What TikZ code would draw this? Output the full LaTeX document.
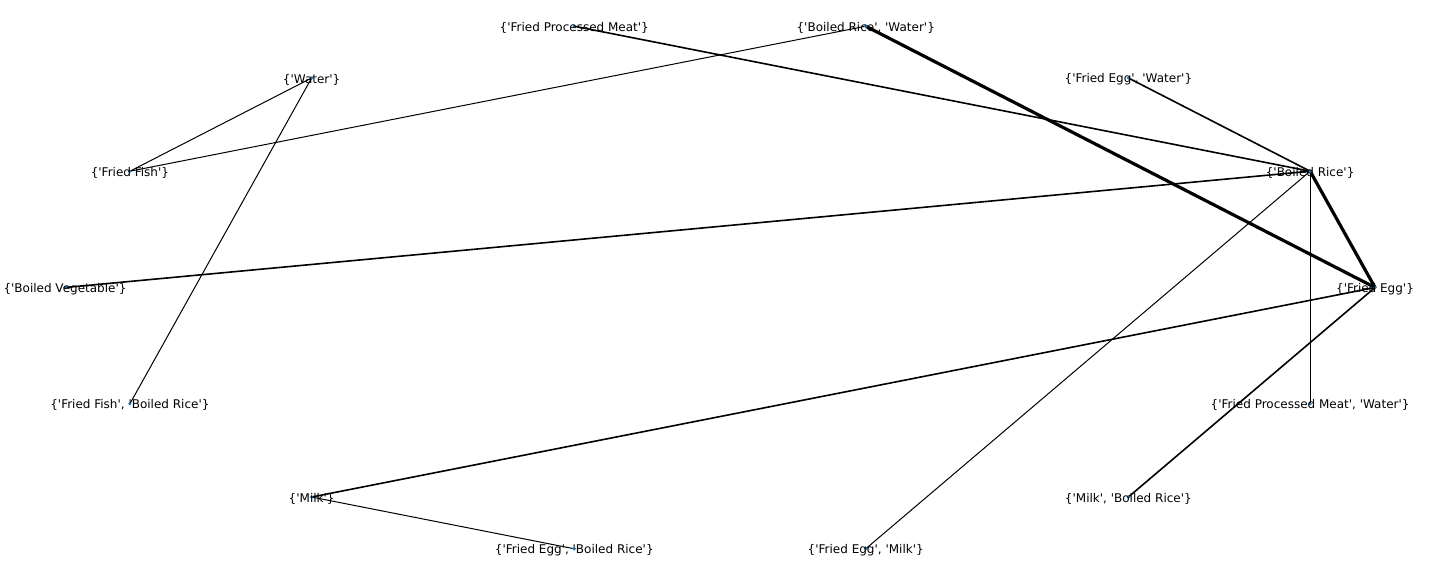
\documentclass[tikz,border=0pt]{standalone}
\usepackage{fontspec}
\setmainfont{DejaVu Sans}[Ligatures=TeXOff]
\begin{document}
\begin{tikzpicture}[x=1pt,y=-1pt,
  lab/.style={font=\fontsize{12}{14}\selectfont, inner sep=0pt, text=black, yshift=-1.5pt},
  dot/.style={fill={rgb,255:red,31;green,119;blue,180}},
  thinE/.style={line width=1pt, black},
  medE/.style={line width=1.6pt, black},
  thickE/.style={line width=3.2pt, black}]
\useasboundingbox (0,0) rectangle (1440,576);
\def\cx{720}\def\cy{287.5}\def\rx{655}\def\ry{268}
\foreach \k in {0,...,13}{
  \coordinate (n\k) at ({\cx+\rx*cos(\k*360/14)},{\cy-\ry*sin(\k*360/14)});
}
% edges
\draw[medE] (n4) -- (n1);
\draw[thickE] (n3) -- (n0);
\draw[thinE] (n3) -- (n6);
\draw[thinE] (n5) -- (n6);
\draw[thinE] (n5) -- (n8);
\draw[medE] (n2) -- (n1);
\draw[medE] (n1) -- (n7);
\draw[thickE] (n1) -- (n0);
\draw[thinE] (n1) -- (n11);
\draw[thinE] (n1) -- (n13);
\draw[medE] (n0) -- (n9);
\draw[medE] (n0) -- (n12);
\draw[thinE] (n9) -- (n10);
% dots
\foreach \k in {0,...,13}{ \fill[dot] (n\k) circle (1.8); }
% labels
\node[lab] (l0) at (n0) {\{'Fried Egg'\}};
\node[lab] (l1) at (n1) {\{'Boiled Rice'\}};
\node[lab] (l2) at (n2) {\{'Fried Egg', 'Water'\}};
\node[lab] (l3) at (n3) {\{'Boiled Rice', 'Water'\}};
\node[lab] (l4) at (n4) {\{'Fried Processed Meat'\}};
\node[lab] (l5) at (n5) {\{'Water'\}};
\node[lab] (l6) at (n6) {\{'Fried Fish'\}};
\node[lab] (l7) at (n7) {\{'Boiled Vegetable'\}};
\node[lab] (l8) at (n8) {\{'Fried Fish', 'Boiled Rice'\}};
\node[lab] (l9) at (n9) {\{'Milk'\}};
\node[lab] (l10) at (n10) {\{'Fried Egg', 'Boiled Rice'\}};
\node[lab] (l11) at (n11) {\{'Fried Egg', 'Milk'\}};
\node[lab] (l12) at (n12) {\{'Milk', 'Boiled Rice'\}};
\node[lab] (l13) at (n13) {\{'Fried Processed Meat', 'Water'\}};
\end{tikzpicture}
\end{document}
